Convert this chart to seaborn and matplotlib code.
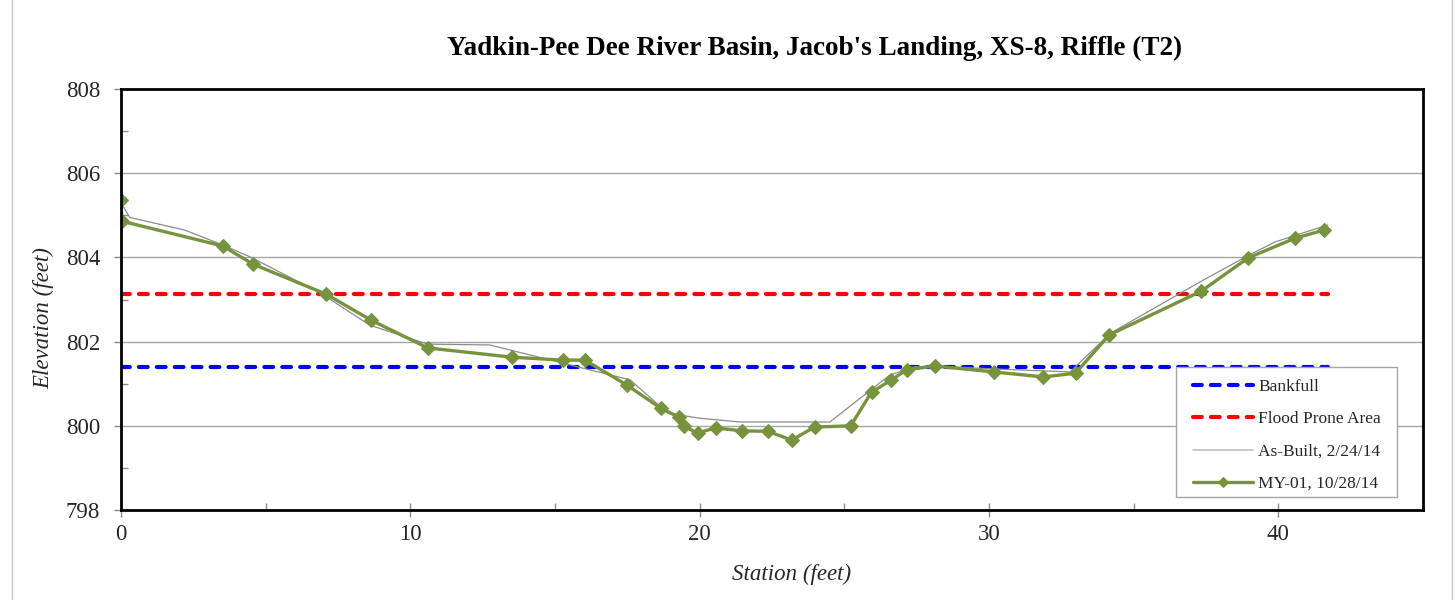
import matplotlib
matplotlib.use("Agg")
import matplotlib.pyplot as plt
from matplotlib.ticker import MultipleLocator
from matplotlib.patches import Rectangle
import seaborn as sns
import pandas as pd

# Cross-section survey data (station and elevation in feet)
asbuilt_station = [0.0, 0.3, 2.2, 3.5, 4.5, 6.9, 8.6, 10.6, 12.75, 17.6, 18.9,
                   20.0, 21.4, 24.5, 26.56, 27.4, 28.1, 30.2, 32.8, 34.2, 37.3,
                   39.0, 39.9, 41.7]
asbuilt_elev = [805.3, 804.95, 804.65, 804.3, 804.0, 803.15, 802.39, 801.94,
                801.92, 801.09, 800.3, 800.18, 800.09, 800.09, 801.2, 801.4,
                801.42, 801.35, 801.28, 802.2, 803.42, 804.06, 804.37, 804.77]

my01_station = [0.0, 0.03, 3.52, 4.56, 7.08, 8.64, 10.6, 13.5, 15.27, 16.03,
                17.48, 18.65, 19.27, 19.45, 19.93, 20.55, 21.45, 22.35, 23.18,
                23.97, 25.22, 25.94, 26.63, 27.15, 28.12, 30.16, 31.88, 32.99,
                34.16, 37.34, 38.96, 40.59, 41.59]
my01_elev = [805.36, 804.86, 804.27, 803.84, 803.13, 802.51, 801.85, 801.63,
             801.56, 801.56, 800.97, 800.42, 800.21, 799.99, 799.83, 799.95,
             799.88, 799.87, 799.66, 799.97, 800.0, 800.8, 801.09, 801.33,
             801.42, 801.28, 801.16, 801.25, 802.16, 803.2, 803.99, 804.46,
             804.65]

bankfull_station = [0.0, 41.7]
bankfull_elev = [801.4, 801.4]
flood_station = [0.0, 41.7]
flood_elev = [803.13, 803.13]

title = "Yadkin-Pee Dee River Basin, Jacob's Landing, XS-8, Riffle (T2)"

sns.set_style("white")
plt.rcParams["font.family"] = ["Liberation Serif", "DejaVu Serif"]

W, H = 1456, 600
L, R, T, B = 121, 1423, 89, 510
fig = plt.figure(figsize=(W / 100, H / 100), dpi=100)
ax = fig.add_axes([L / W, 1 - B / H, (R - L) / W, (B - T) / H])


def ax_x(px):
    return (px - L) / (R - L)


def ax_y(py):
    return (B - py) / (B - T)


# light outer frame of the chart area
fig.patches.append(Rectangle((12 / W, -0.01), (1452 - 12) / W, 1.02,
                             transform=fig.transFigure, fill=False,
                             edgecolor="#c8c8c8", linewidth=1.0, zorder=0))

dash_kw = dict(linewidth=3.0, dashes=(2.1, 2.2), dash_capstyle="round")

sns.lineplot(x=bankfull_station, y=bankfull_elev, ax=ax, color="#0000ff",
             label="Bankfull", **dash_kw)
sns.lineplot(x=flood_station, y=flood_elev, ax=ax, color="#ff0000",
             label="Flood Prone Area", **dash_kw)

df_ab = pd.DataFrame({"station": asbuilt_station, "elev": asbuilt_elev})
sns.lineplot(data=df_ab, x="station", y="elev", ax=ax, sort=False,
             color="#8c8c8c", linewidth=0.9, label="As-Built, 2/24/14")

df_my = pd.DataFrame({"station": my01_station, "elev": my01_elev})
sns.lineplot(data=df_my, x="station", y="elev", ax=ax, sort=False,
             color="#77933c", linewidth=2.4, marker="D", markersize=6.8,
             markeredgecolor="#77933c", label="MY-01, 10/28/14")

ax.set_xlim(0, 45)
ax.set_ylim(798, 808)
ax.xaxis.set_major_locator(MultipleLocator(10))
ax.xaxis.set_minor_locator(MultipleLocator(5))
ax.yaxis.set_major_locator(MultipleLocator(2))
ax.yaxis.set_minor_locator(MultipleLocator(1))

ax.grid(axis="y", which="major", color="#a6a6a6", linewidth=1.0)
ax.grid(axis="x", visible=False)
ax.set_axisbelow(True)

for side in ax.spines.values():
    side.set_color("black")
    side.set_linewidth(2.0)
    side.set_visible(True)

ax.tick_params(axis="x", which="major", direction="inout", length=10,
               color="#8c8c8c", width=1, labelsize=16.5, pad=5, bottom=True)
ax.tick_params(axis="x", which="minor", direction="in", length=5,
               color="#8c8c8c", width=1, bottom=True)
ax.tick_params(axis="y", which="major", direction="out", length=5,
               color="#8c8c8c", width=1, labelsize=16.5, pad=10, left=True)
ax.tick_params(axis="y", which="minor", direction="in", length=5,
               color="#8c8c8c", width=1, left=True)

ax.set_xlabel("Station (feet)", fontsize=16.5, fontstyle="italic")
ax.set_ylabel("Elevation (feet)", fontsize=16.5, fontstyle="italic")
ax.xaxis.set_label_coords(ax_x(792), ax_y(564))
ax.yaxis.set_label_coords(ax_x(54), ax_y(318))

fig.text(815 / W, 1 - 48 / H, title, ha="center", va="center",
         fontsize=19.5, fontweight="bold", color="black")

# legend box drawn separately so its padding can differ per side
ax.add_patch(Rectangle((ax_x(1176), ax_y(497)), ax_x(1397) - ax_x(1176),
                       ax_y(367) - ax_y(497), transform=ax.transAxes,
                       facecolor="white", edgecolor="#a6a6a6", linewidth=1.0,
                       zorder=4.5, clip_on=False))
leg = ax.legend(loc="upper left", bbox_to_anchor=(ax_x(1186), ax_y(372)),
                frameon=False, fontsize=12.5, handlelength=3.45,
                handletextpad=0.3, labelspacing=0.93, borderpad=0.4,
                borderaxespad=0)
leg.set_zorder(5)
for h in leg.get_lines():
    if h.get_label().startswith("As-Built"):
        h.set_color("#c0c0c0")
        h.set_linewidth(1.2)
    if h.get_label().startswith("MY-01"):
        h.set_markersize(5)

fig.savefig("out.png", dpi=100, facecolor="white")
